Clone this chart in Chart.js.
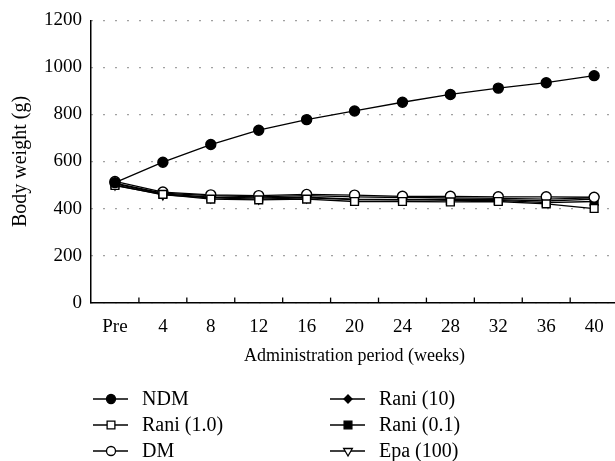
<!DOCTYPE html>
<html>
<head>
<meta charset="utf-8">
<script src="https://cdn.jsdelivr.net/npm/chart.js"></script>
<style>
  html, body { margin: 0; padding: 0; background: #fff; overflow: hidden; }
  #wrap { width: 625px; height: 461px; }
</style>
</head>
<body>
<div id="wrap"><canvas id="weightChart"></canvas></div>
<script>
const weeks = ['Pre', '4', '8', '12', '16', '20', '24', '28', '32', '36', '40'];
const yTicks = [0, 200, 400, 600, 800, 1000, 1200];

// body weight (g) per group
const ndm    = [510, 597, 672, 733, 778, 815, 852, 885, 912, 935, 965];
const rani1  = [498, 460, 440, 437, 440, 430, 430, 428, 430, 420, 400];
const dm     = [515, 470, 458, 455, 460, 457, 452, 452, 450, 450, 448];
const rani10 = [508, 465, 455, 450, 455, 450, 447, 445, 443, 440, 445];
const rani01 = [505, 462, 448, 445, 448, 440, 438, 435, 435, 425, 430];
const epa    = [500, 458, 445, 440, 445, 438, 437, 440, 438, 432, 440];

const FONT = '"Liberation Serif", "DejaVu Serif", serif';

function series(label, data, style, fill, radius, rotation) {
    return {
        label: label,
        data: data,
        borderColor: '#000',
        borderWidth: 1.3,
        pointStyle: style,
        pointRadius: radius,
        pointRotation: rotation || 0,
        pointBackgroundColor: fill,
        pointBorderColor: '#000',
        pointBorderWidth: 1.4,
        tension: 0
    };
}

const datasets = [
    series('NDM', ndm, 'circle', '#000', 5),
    series('Rani (1.0)', rani1, 'rect', '#fff', 5.5),
    series('DM', dm, 'circle', '#fff', 5),
    series('Rani (10)', rani10, 'rectRot', '#000', 4),
    series('Rani (0.1)', rani01, 'rect', '#000', 5.5),
    series('Epa (100)', epa, 'triangle', '#fff', 5, 180)
];

// x tick marks pointing up into the plot, at category boundaries
const innerTicks = {
    id: 'innerTicks',
    afterDatasetsDraw(chart) {
        const x = chart.scales.x;
        const ctx = chart.ctx;
        const bottom = chart.chartArea.bottom;
        ctx.save();
        ctx.strokeStyle = '#000';
        ctx.lineWidth = 1.3;
        for (let i = 0; i < weeks.length - 1; i++) {
            const px = (x.getPixelForValue(i) + x.getPixelForValue(i + 1)) / 2;
            ctx.beginPath();
            ctx.moveTo(px, bottom);
            ctx.lineTo(px, bottom - 5);
            ctx.stroke();
        }
        ctx.restore();
    }
};

// two-column legend under the axis title
const sideLegend = {
    id: 'sideLegend',
    afterDraw(chart) {
        const ctx = chart.ctx;
        const cols = [111, 348];
        const rows = [399, 425, 451];
        const order = [0, 3, 1, 4, 2, 5];
        const legendRadius = { circle: 4.5, rect: 5.5, rectRot: 4, triangle: 5 };
        ctx.save();
        order.forEach((di, k) => {
            const ds = chart.data.datasets[di];
            const cx = cols[k % 2];
            const cy = rows[Math.floor(k / 2)];
            ctx.strokeStyle = '#000';
            ctx.lineWidth = 1.3;
            ctx.beginPath();
            ctx.moveTo(cx - 18, cy);
            ctx.lineTo(cx + 17, cy);
            ctx.stroke();
            ctx.fillStyle = ds.pointBackgroundColor;
            Chart.helpers.drawPoint(ctx, {
                pointStyle: ds.pointStyle,
                radius: legendRadius[ds.pointStyle],
                rotation: ds.pointRotation,
                borderWidth: 1.3
            }, cx, cy);
            ctx.fillStyle = '#000';
            ctx.font = '20px ' + FONT;
            ctx.textBaseline = 'middle';
            ctx.textAlign = 'left';
            ctx.fillText(ds.label, cx + 31, cy + 1);
        });
        ctx.restore();
    }
};

new Chart(document.getElementById('weightChart'), {
    type: 'line',
    data: { labels: weeks, datasets: datasets },
    options: {
        responsive: true,
        maintainAspectRatio: false,
        animation: false,
        layout: { padding: { top: 12, right: 4, bottom: 94, left: 9 } },
        plugins: {
            legend: { display: false },
            tooltip: { enabled: false }
        },
        scales: {
            x: {
                offset: true,
                grid: { display: false, drawTicks: false },
                border: { color: '#000', width: 1.5 },
                ticks: {
                    color: '#000',
                    font: { family: FONT, size: 19 },
                    padding: 13,
                    maxRotation: 0,
                    autoSkip: false
                },
                title: {
                    display: true,
                    text: 'Administration period (weeks)',
                    color: '#000',
                    font: { family: FONT, size: 18 },
                    padding: { top: -6, bottom: 0 }
                }
            },
            y: {
                min: 0,
                max: 1200,
                afterBuildTicks(axis) {
                    axis.ticks = yTicks.map(v => ({ value: v }));
                },
                grid: {
                    color: '#444',
                    lineWidth: 1.3,
                    drawTicks: false
                },
                // in v4 border.dash styles the grid lines
                border: { color: '#000', width: 1.5, dash: [1, 11] },
                ticks: {
                    color: '#000',
                    font: { family: FONT, size: 19 },
                    padding: 9,
                    callback: v => String(v)
                },
                title: {
                    display: true,
                    text: 'Body weight (g)',
                    color: '#000',
                    font: { family: FONT, size: 20 },
                    padding: { top: 0, bottom: 2 }
                }
            }
        }
    },
    plugins: [innerTicks, sideLegend]
});
</script>
</body>
</html>
